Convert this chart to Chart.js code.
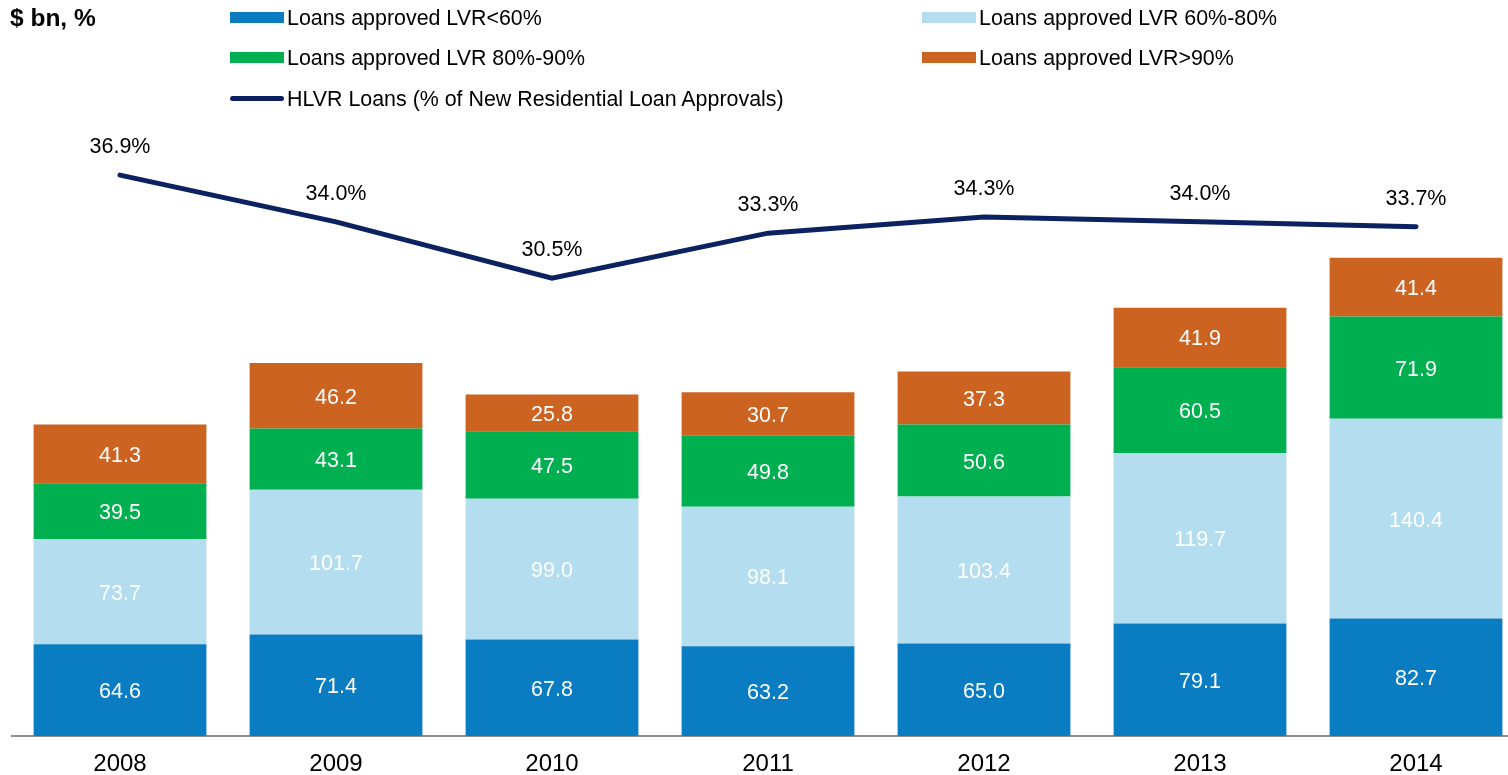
<!DOCTYPE html>
<html>
<head>
<meta charset="utf-8">
<script src="https://cdn.jsdelivr.net/npm/chart.js@4.4.0/dist/chart.umd.min.js"></script>
<style>
  html, body { margin: 0; padding: 0; background: #fff; overflow: hidden; }
  body { width: 1508px; height: 775px; position: relative; font-family: "Liberation Sans", Arial, sans-serif; }
  #wrap { position: absolute; left: 0; top: 0; width: 1524px; height: 792px; }
  .title { position: absolute; left: 10px; top: 4px; font-size: 24.5px; font-weight: bold; color: #000; }
  .leg { position: absolute; font-size: 21.4px; color: #000; white-space: nowrap; line-height: 24px; }
  .sw { position: absolute; width: 54px; height: 11px; }
  .ln { position: absolute; width: 54px; height: 5px; border-radius: 3px; }
</style>
</head>
<body>
<div id="wrap"><canvas id="myChart" width="1524" height="792"></canvas></div>
<div class="title">$ bn, %</div>
<div id="legend"></div>
<script>
'use strict';
let years = ['2008', '2009', '2010', '2011', '2012', '2013', '2014'];
let lvrUnder60 = [64.6, 71.4, 67.8, 63.2, 65.0, 79.1, 82.7];
let lvr60to80 = [73.7, 101.7, 99.0, 98.1, 103.4, 119.7, 140.4];
let lvr80to90 = [39.5, 43.1, 47.5, 49.8, 50.6, 60.5, 71.9];
let lvrOver90 = [41.3, 46.2, 25.8, 30.7, 37.3, 41.9, 41.4];
let hlvrShare = [36.9, 34.0, 30.5, 33.3, 34.3, 34.0, 33.7];

let seriesNames = ['Loans approved LVR<60%', 'Loans approved LVR 60%-80%', 'Loans approved LVR 80%-90%', 'Loans approved LVR>90%', 'HLVR Loans (% of New Residential Loan Approvals)'];
let colors = ['#0A7DC2', '#B4DDF0', '#00AF50', '#CC6320', '#0C2160'];

// legend (html, two columns)
let legendEl = document.getElementById('legend');
let legendPos = [[230, 6], [922, 6], [230, 46], [922, 46], [230, 87]];
for (let i = 0; i < seriesNames.length; i++) {
    let x = legendPos[i][0];
    let y = legendPos[i][1];
    let sw = document.createElement('div');
    if (i === 4) {
        sw.className = 'ln';
        sw.style.top = (y + 9) + 'px';
    } else {
        sw.className = 'sw';
        sw.style.top = (y + 6) + 'px';
    }
    sw.style.left = x + 'px';
    sw.style.background = colors[i];
    legendEl.appendChild(sw);
    let txt = document.createElement('div');
    txt.className = 'leg';
    txt.style.left = (x + 57) + 'px';
    txt.style.top = y + 'px';
    txt.textContent = seriesNames[i];
    legendEl.appendChild(txt);
}

let labelPlugin = {
    id: 'valueLabels',
    afterDatasetsDraw(chart) {
        let ctx = chart.ctx;
        ctx.save();
        ctx.font = '21.5px "Liberation Sans", Arial, sans-serif';
        ctx.textAlign = 'center';
        ctx.textBaseline = 'middle';
        chart.data.datasets.forEach(function (ds, i) {
            let meta = chart.getDatasetMeta(i);
            meta.data.forEach(function (el, j) {
                if (ds.type === 'line') {
                    ctx.fillStyle = '#000';
                    ctx.fillText(ds.data[j].toFixed(1) + '%', el.x, el.y - 28);
                } else {
                    ctx.fillStyle = '#fff';
                    ctx.fillText(ds.data[j].toFixed(1), el.x, (el.y + el.base) / 2 + 2);
                }
            });
        });
        ctx.restore();
    }
};

let barSets = [lvrUnder60, lvr60to80, lvr80to90, lvrOver90];
let datasets = [{
    type: 'line',
    label: seriesNames[4],
    data: hlvrShare,
    yAxisID: 'y1',
    borderColor: colors[4],
    borderWidth: 5,
    borderCapStyle: 'round',
    pointRadius: 0,
    tension: 0,
    order: 0
}];
for (let i = 0; i < barSets.length; i++) {
    datasets.push({
        type: 'bar',
        label: seriesNames[i],
        data: barSets[i],
        backgroundColor: colors[i],
        yAxisID: 'y',
        stack: 'loans',
        barPercentage: 0.8,
        categoryPercentage: 1.0,
        order: 1
    });
}

let ctx = document.getElementById('myChart').getContext('2d');
let myChart = new Chart(ctx, {
    data: { labels: years, datasets: datasets },
    plugins: [labelPlugin],
    options: {
        responsive: false,
        animation: false,
        layout: { padding: { top: 130, left: 12, right: 0, bottom: 0 } },
        plugins: { legend: { display: false }, tooltip: { enabled: false } },
        scales: {
            x: {
                stacked: true,
                grid: { display: false, drawTicks: false },
                border: { display: true, color: '#8c8c8c', width: 2 },
                ticks: {
                    color: '#000',
                    padding: 16,
                    font: { family: '"Liberation Sans", Arial, sans-serif', size: 24, lineHeight: 1 }
                }
            },
            y: { stacked: true, display: false, min: 0, max: 426.2 },
            y1: { display: false, min: 2.1, max: 39.7 }
        }
    }
});
</script>
</body>
</html>
